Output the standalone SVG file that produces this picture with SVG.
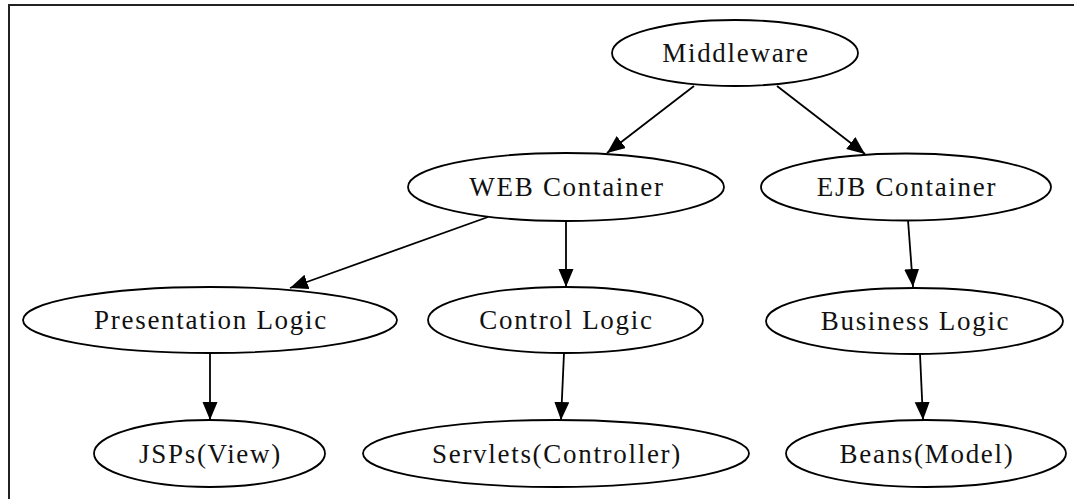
<svg xmlns="http://www.w3.org/2000/svg" width="1074" height="499" viewBox="0 0 1074 499">
  <defs>
    <marker id="arrow" markerUnits="userSpaceOnUse" markerWidth="19" markerHeight="16" refX="18" refY="7.5" orient="auto">
      <path d="M0,0 L18,7.5 L0,15 Z" fill="#000"/>
    </marker>
    <style>
      .frame { stroke: #222; stroke-width: 2; fill: none; }
      .node ellipse { fill: #fff; stroke: #000; stroke-width: 1.8; }
      .node text { font-family: "Liberation Serif", "Times New Roman", serif; font-size: 27px; letter-spacing: 1.7px; text-anchor: middle; fill: #111; }
      #edges line { stroke: #000; stroke-width: 1.8; marker-end: url(#arrow); }
    </style>
  </defs>
  <rect width="1074" height="499" fill="#fff"/>
  <!-- page frame: only the top and left edges fall inside the view -->
  <path class="frame" d="M9,499 L9,5 L1074,5"/>

  <g id="edges">
    <line x1="694" y1="86" x2="607" y2="153"/>
    <line x1="777" y1="86" x2="865" y2="154"/>
    <line x1="488" y1="217" x2="290" y2="288"/>
    <line x1="566" y1="221" x2="566" y2="287"/>
    <line x1="908" y1="220" x2="913" y2="287"/>
    <line x1="210" y1="353" x2="210" y2="420"/>
    <line x1="564" y1="353" x2="561" y2="420"/>
    <line x1="920" y1="354" x2="923" y2="420"/>
  </g>

  <g id="middleware" class="node">
    <ellipse cx="735" cy="53" rx="123" ry="33"/>
    <text x="736" y="62">Middleware</text>
  </g>
  <g id="web-container" class="node">
    <ellipse cx="566" cy="187" rx="158" ry="34"/>
    <text x="567" y="196">WEB Container</text>
  </g>
  <g id="ejb-container" class="node">
    <ellipse cx="906" cy="187" rx="145" ry="33.5"/>
    <text x="907" y="196">EJB Container</text>
  </g>
  <g id="presentation-logic" class="node">
    <ellipse cx="210" cy="320" rx="187" ry="33"/>
    <text x="211" y="329">Presentation Logic</text>
  </g>
  <g id="control-logic" class="node">
    <ellipse cx="565.5" cy="320" rx="137.5" ry="33"/>
    <text x="566.5" y="329">Control Logic</text>
  </g>
  <g id="business-logic" class="node">
    <ellipse cx="914.5" cy="321" rx="148.5" ry="33"/>
    <text x="915.5" y="330">Business Logic</text>
  </g>
  <g id="jsps-view" class="node">
    <ellipse cx="209.5" cy="453.5" rx="115.5" ry="33.5"/>
    <text x="210.5" y="462.5">JSPs(View)</text>
  </g>
  <g id="servlets-controller" class="node">
    <ellipse cx="556" cy="453.5" rx="193" ry="33.5"/>
    <text x="557" y="462.5">Servlets(Controller)</text>
  </g>
  <g id="beans-model" class="node">
    <ellipse cx="926" cy="453.5" rx="140" ry="33.5"/>
    <text x="927" y="462.5">Beans(Model)</text>
  </g>
</svg>
